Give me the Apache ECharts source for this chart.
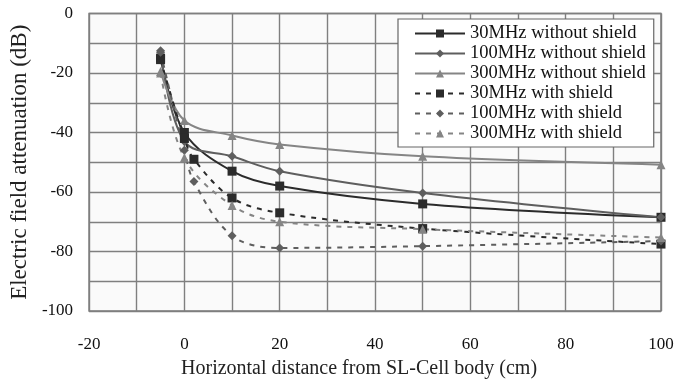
<!DOCTYPE html>
<html>
<head>
<meta charset="utf-8">
<script src="https://cdn.jsdelivr.net/npm/echarts@6/dist/echarts.min.js"></script>
<style>html,body{margin:0;padding:0;background:#fff;}#c{width:689px;height:385px;}</style>
</head>
<body>
<div id="c"></div>
<script>
// Data
var xNoShield = [-5, 0, 10, 20, 50, 100];
var xShield30 = [-5, 0, 2, 10, 20, 50, 100];
var xShield100 = [-5, 0, 2, 10, 20, 50, 100];
var xShield300 = [-5, 0, 10, 20, 50, 100];

var y30NoShield = [-15, -40, -53, -58, -64, -68.5];
var y100NoShield = [-12.5, -43, -48, -53, -60.3, -68.5];
var y300NoShield = [-19.5, -36, -41, -44, -48, -50.8];
var y30Shield = [-15.5, -42, -49, -62, -67, -72.3, -77.5];
var y100Shield = [-13, -46, -56.5, -74.7, -78.8, -78.2, -76.5];
var y300Shield = [-20, -48.5, -64.5, -70, -72.5, -75.3];

var seriesNames = ['30MHz without shield', '100MHz without shield', '300MHz without shield',
                   '30MHz with shield', '100MHz with shield', '300MHz with shield'];

function pairs(xs, ys) { return xs.map(function (x, i) { return [x, ys[i]]; }); }

var colors = ['#2b2b2b', '#5e5e5e', '#858585', '#2b2b2b', '#5e5e5e', '#858585'];
var symbols = ['rect', 'diamond', 'triangle', 'rect', 'diamond', 'triangle'];
var dataSets = [
  pairs(xNoShield, y30NoShield), pairs(xNoShield, y100NoShield), pairs(xNoShield, y300NoShield),
  pairs(xShield30, y30Shield), pairs(xShield100, y100Shield), pairs(xShield300, y300Shield)
];

var series = dataSets.map(function (d, i) {
  var dashed = i >= 3;
  return {
    name: seriesNames[i], type: 'line', data: d, smooth: 0.35,
    symbol: symbols[i], symbolSize: 9, showSymbol: true,
    itemStyle: { color: colors[i] },
    lineStyle: { color: colors[i], width: 2, type: dashed ? [5, 6] : 'solid' },
    z: 3
  };
});

var font = 'Liberation Serif, Times New Roman, serif';
var chart = echarts.init(document.getElementById('c'));
chart.setOption({
  animation: false,
  backgroundColor: '#ffffff',
  grid: { left: 88, top: 13.5, right: 28, bottom: 74, show: true,
          backgroundColor: '#fafafa', borderColor: '#7a7a7a', borderWidth: 1.5 },
  legend: {
    orient: 'vertical', left: 398, top: 19, width: 255,
    padding: [5, 8, 4, 16], itemGap: 1, itemWidth: 50, itemHeight: 10,
    backgroundColor: '#ffffff', borderColor: '#666', borderWidth: 1.2,
    textStyle: { fontFamily: font, fontSize: 18.5, color: '#111' },
    data: seriesNames
  },
  xAxis: {
    type: 'value', min: -20, max: 100, interval: 10,
    name: 'Horizontal distance from SL-Cell body (cm)', nameLocation: 'middle', nameGap: 48,
    nameTextStyle: { fontFamily: font, fontSize: 20, color: '#222', padding: [0, 32, 0, 0] },
    axisLine: { show: false }, axisTick: { show: false },
    axisLabel: { margin: 25, fontFamily: font, fontSize: 17, color: '#111',
      formatter: function (v) { return (v % 20 === 0) ? String(v) : ''; } },
    splitLine: { show: true, lineStyle: { color: '#7f7f7f', width: 1.4 } }
  },
  yAxis: {
    type: 'value', min: -100, max: 0, interval: 10,
    name: 'Electric field attenuation (dB)', nameLocation: 'middle', nameGap: 50,
    nameTextStyle: { fontFamily: font, fontSize: 23, color: '#222' },
    axisLine: { show: false }, axisTick: { show: false },
    axisLabel: { margin: 16, fontFamily: font, fontSize: 17, color: '#111',
      formatter: function (v) { return (v % 20 === 0) ? String(v) : ''; } },
    splitLine: { show: true, lineStyle: { color: '#7f7f7f', width: 1.4 } }
  },
  series: series
});
</script>
</body>
</html>
